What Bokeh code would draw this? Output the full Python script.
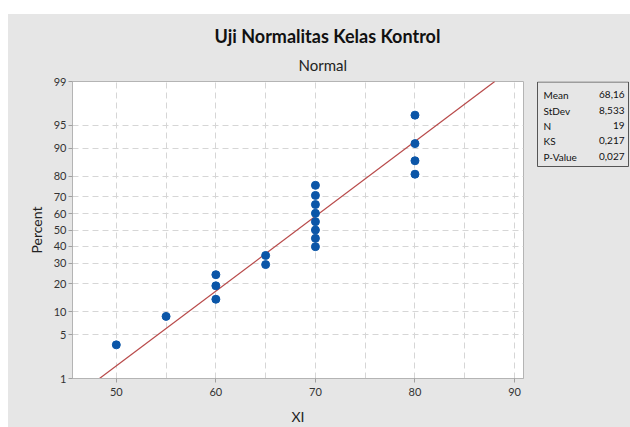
from statistics import NormalDist
from bokeh.plotting import figure
from bokeh.layouts import column, row
from bokeh.models import FixedTicker, Range1d, Spacer, Title
from bokeh.core.properties import value
from bokeh.embed import file_html
from bokeh.resources import INLINE

# ---- data ----
xi_values = [50, 55, 60, 60, 60, 65, 65, 70, 70, 70, 70, 70, 70, 70, 70, 80, 80, 80, 80]
percent_values = [3.6, 8.8, 13.9, 19.1, 24.2, 29.4, 34.5, 39.7, 44.8, 50.0, 55.2,
                  60.3, 65.5, 70.6, 75.8, 80.9, 86.1, 91.2, 96.4]
percent_ticks = [1, 5, 10, 20, 30, 40, 50, 60, 70, 80, 90, 95, 99]
x_ticks = [50, 60, 70, 80, 90]
x_grid = [50, 55, 60, 65, 70, 75, 80, 85, 90]
stat_names = ["Mean", "StDev", "N", "KS", "P-Value"]
stat_texts = ["68,16", "8,533", "19", "0,217", "0,027"]
mean_val = 68.16
sd_val = 8.533
title_text = "Uji Normalitas Kelas Kontrol"
subtitle_text = "Normal"

nd = NormalDist()
def z(pc):
    return nd.inv_cdf(pc / 100.0)

BG = "#e6e6e6"
FONT = "Lato"

# ---- layout geometry (page pixels) ----
FIG_X, FIG_Y, H = 8, 14, 413
FR_L, FR_R, FR_T, FR_B = 72, 523, 81, 378     # plot frame
x_lo, x_hi = 45.6, 90.9
y_lo, y_hi = z(1), z(99)

p = figure(width=FR_R + 1 - FIG_X, height=H, output_backend="svg", toolbar_location=None,
           x_range=Range1d(x_lo, x_hi), y_range=Range1d(y_lo, y_hi),
           min_border_left=FR_L - FIG_X, min_border_right=1,
           min_border_top=FR_T - FIG_Y, min_border_bottom=FIG_Y + H - FR_B,
           background_fill_color="white", border_fill_color=BG,
           outline_line_color="#b4b4b4", outline_line_width=1)

# fitted line
line_x = [mean_val + sd_val * y_lo, mean_val + sd_val * y_hi]
p.line(line_x, [y_lo, y_hi], line_color="#b84a4a", line_width=1.2)

# points
p.scatter(xi_values, [z(v) for v in percent_values], size=8,
          fill_color="#0b56a8", line_color="#0b56a8")

# axes
for ax in (p.xaxis[0], p.yaxis[0]):
    ax.axis_line_color = "#b4b4b4"
    ax.major_tick_line_color = "#a0a0a0"
    ax.major_tick_out = 4
    ax.major_tick_in = 0
    ax.minor_tick_line_color = None
    ax.major_label_text_font = FONT
    ax.major_label_text_font_size = "11px"
    ax.major_label_text_color = "#333333"
    ax.axis_label_text_font = FONT
    ax.axis_label_text_font_size = "14px"
    ax.axis_label_text_font_style = "normal"
    ax.axis_label_text_color = "#222222"

p.xaxis.ticker = FixedTicker(ticks=x_ticks)
p.xaxis.axis_label = "XI"
p.xaxis.major_label_standoff = 5
p.xaxis.axis_label_standoff = 9

ytick_vals = [z(v) for v in percent_ticks]
p.yaxis.ticker = FixedTicker(ticks=ytick_vals)
p.yaxis.major_label_overrides = {tv: str(v) for tv, v in zip(ytick_vals, percent_ticks)}
p.yaxis.axis_label = "Percent"
p.yaxis.major_label_standoff = 2
p.yaxis.axis_label_standoff = 6

p.xgrid.ticker = FixedTicker(ticks=x_grid)
p.ygrid.ticker = FixedTicker(ticks=ytick_vals)
for g in (p.xgrid[0], p.ygrid[0]):
    g.grid_line_color = "#d6d6d6"
    g.grid_line_dash = "6 4"
    g.grid_line_width = 1

# titles (subtitle first: it sits next to the frame)
p.add_layout(Title(text=subtitle_text, align="left", offset=226, standoff=15,
                   text_font=FONT, text_font_size="15px", text_font_style="normal",
                   text_color="#222222"), "above")
p.add_layout(Title(text=title_text, align="left", offset=142, standoff=0,
                   text_font=FONT, text_font_size="18px", text_font_style="bold",
                   text_color="#111111"), "above")

# stats panel figure (same frame top/bottom as the plot so rows align)
S_L = FR_R + 1
s = figure(width=FIG_X + 622 - S_L, height=H, output_backend="svg", toolbar_location=None,
           x_range=Range1d(S_L, FIG_X + 622), y_range=Range1d(FR_B, FR_T),
           x_axis_location=None, y_axis_location=None,
           min_border_left=0, min_border_right=0,
           min_border_top=FR_T - FIG_Y, min_border_bottom=FIG_Y + H - FR_B,
           background_fill_color=BG, border_fill_color=BG, outline_line_color=None)
s.grid.visible = False
s.quad(left=[537], right=[628], top=[81.5], bottom=[166],
       fill_color=None, line_color="#555555", line_width=1)
row_y = [94, 110, 125, 140, 156]
s.text([543] * 5, row_y, text=stat_names,
       text_font=value(FONT), text_font_size="10px", text_align="left",
       text_baseline="middle", text_color="#111111")
s.text([624] * 5, row_y, text=stat_texts,
       text_font=value(FONT), text_font_size="10px", text_align="right",
       text_baseline="middle", text_color="#111111")

layout = column(Spacer(width=630, height=FIG_Y),
                row(Spacer(width=FIG_X, height=H, styles={"background-color": "white"}),
                    p, s, spacing=0, styles={"background-color": BG}),
                spacing=0)
open("out.html", "w").write(file_html(layout, INLINE))
